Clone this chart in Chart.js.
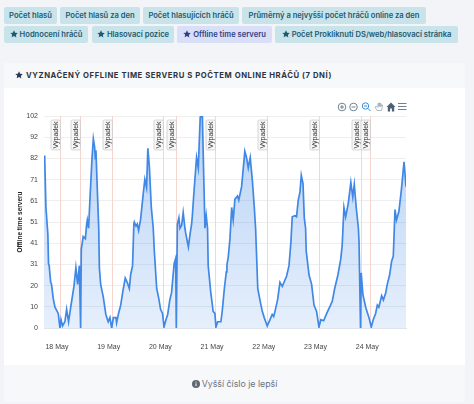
<!DOCTYPE html>
<html>
<head>
<meta charset="utf-8">
<script src="https://cdn.jsdelivr.net/npm/chart.js@4"></script>
<style>
  html, body { margin: 0; padding: 0; }
  body { width: 474px; height: 404px; background: #f3f4f7; font-family: Inter, sans-serif; overflow: hidden; position: relative; }
  .chip { position: absolute; height: 17px; line-height: 17px; background: #c8e3ea; color: #1d5a70; font-size: 7.6px; font-weight: 600; border-radius: 2px; text-align: center; white-space: nowrap; }
  .chip.active { background: #d9dff8; color: #2f3f86; }
  .star { display: inline-block; width: 8px; height: 8px; margin-right: 2px; vertical-align: -1px; fill: currentColor; }
  #card { position: absolute; left: 4px; top: 63px; width: 461px; height: 339px; background: #fff; border-radius: 3px; overflow: hidden; }
  #head { position: absolute; left: 0; top: 0; width: 100%; height: 25px; line-height: 25px; background: #f7f8fa; color: #2b3440; font-size: 7.7px; font-weight: 700; letter-spacing: 0.57px; padding-left: 11px; box-sizing: border-box; white-space: nowrap; }
  #head .star { color: #2c3a55; margin-right: 3px; vertical-align: -1px; }
  #foot { position: absolute; left: 0; top: 302px; width: 100%; height: 37px; line-height: 38px; background: #f7f8fa; color: #6b7280; font-size: 8.8px; text-align: center; }
  #foot svg { vertical-align: -1px; margin-right: 2px; }
  #wrap { position: absolute; left: 0; top: 25px; width: 461px; height: 277px; }
  #tools { position: absolute; left: 336px; top: 101px; }
</style>
</head>
<body>
<div id="chips"></div>
<div id="card">
  <div id="head"><svg class="star" viewBox="0 0 24 24"><path d="M12 1l3.4 7.3 7.9 1-5.8 5.5 1.5 7.9L12 18l-7 3.7 1.5-7.9L.7 9.3l7.9-1z"/></svg>VYZNAČENÝ OFFLINE TIME SERVERU S POČTEM ONLINE HRÁČŮ (7 DNÍ)</div>
  <div id="wrap"><canvas id="offlineChart"></canvas></div>
  <div id="foot"><svg width="8" height="8" viewBox="0 0 8 8"><circle cx="4" cy="4" r="4" fill="#5f6670"/><path d="M4 3.4v2.8M4 1.6v1" stroke="#fff" stroke-width="1"/></svg>Vyšší číslo je lepší</div>
</div>
<svg id="tools" width="72" height="12" viewBox="0 0 72 12" fill="none" stroke="#6e8192" stroke-width="1">
  <circle cx="6" cy="6" r="3.8"/><path d="M4 6h4M6 4v4"/>
  <circle cx="17.5" cy="6" r="3.8"/><path d="M15.5 6h4"/>
  <circle cx="29.5" cy="5" r="3.2" stroke="#2f8fe0"/><path d="M32 7.5l2.6 2.6M28 5h3" stroke="#2f8fe0"/>
  <path d="M39 6l2 3.5h4.5l1-5.5-1-.3-.7 2V2.5h-.9V5.5 2h-1v3.5-3h-1v4l-1.2-1.2z" stroke="#9aa8b4" stroke-width=".8"/>
  <path d="M50.5 6l4.5-4.5 4.5 4.5h-1.3v4.5h-2.3V7.5h-1.8v3h-2.3V6z" fill="#4d6173" stroke="none"/>
  <path d="M62 2.5h8.5M62 5.5h8.5M62 8.5h8.5" stroke="#6e8192" stroke-width="1.1"/>
</svg>
<script>
const starIcon = '<svg class="star" viewBox="0 0 24 24"><path d="M12 1l3.4 7.3 7.9 1-5.8 5.5 1.5 7.9L12 18l-7 3.7 1.5-7.9L.7 9.3l7.9-1z"/></svg>';

// chips on top of the card
const chipRows = [
  ["Počet hlasů", 4, 53, 7, false], ["Počet hlasů za den", 60, 80, 7, false], ["Počet hlasujících hráčů", 143, 96, 7, false],
  ["Průměrný a nejvyšší počet hráčů online za den", 242, 184, 7, false],
  ["Hodnocení hráčů", 4, 84, 26, true], ["Hlasovací pozice", 92, 82, 26, true], ["Offline time serveru", 177, 95, 26, true],
  ["Počet Prokliknutí DS/web/hlasovací stránka", 275, 183, 26, true]
];
chipRows.forEach(c => {
  const el = document.createElement("div");
  el.className = "chip" + (c[0].includes("Offline") ? " active" : "");
  el.innerHTML = (c[4] ? starIcon : "") + c[0];
  el.style.left = c[1] + "px";
  el.style.width = c[2] + "px";
  el.style.top = c[3] + "px";
  document.getElementById("chips").appendChild(el);
});

// hours counted from 18 May 00:00
const hours = [-7.4,-7.1,-6.5,-5.6,-5.3,-5.0,-4.3,-3.9,-3.1,-2.3,-0.8,0,0.5,1.2,2.3,3.1,4,5,5.9,6.5,7.4,8.2,9,9.6,9.9,10.8,11.8,12.4,12.7,13.3,13.9,14.9,15.5,16.1,16.4,16.7,17.3,18,18.3,18.9,20.1,21.3,22.4,23.2,24,24.8,26,26.3,27.2,28.2,29.1,30.3,31.2,32.2,32.8,33.7,34.3,34.5,35.3,35.9,36.5,37.4,38.7,39.4,40.2,40.8,41.5,42.4,43.3,43.8,44.9,45.9,46.7,47.6,48.3,49.2,50,51,51.8,53,53.7,54,54.5,55.2,55.7,56.5,57.2,58,58.3,59.6,60.5,61.1,61.4,62.3,63.4,64.2,65.1,66.1,66.7,67.3,67.9,68.5,68.8,70,71.1,71.9,72.4,73.2,74.7,75.3,76.3,77.2,77.5,78.1,78.9,79.7,80.4,81.2,82.4,83,84.3,85.8,86.6,87.4,88.3,89.3,90.2,90.8,91.8,92.8,93.9,94.8,96.2,97.5,98.5,99.2,99.8,101,102.1,103.2,105.2,106.3,107.2,107.8,109,109.8,110.6,111.4,112,112.8,113.4,114,114.3,115.6,116.8,117.9,119.1,120.2,121.1,122.4,123.8,125.6,126.4,127.5,129,130.3,131,131.8,132.6,133.8,134.4,135,135.9,136.6,137.5,138.5,138.8,139.5,139.8,140.6,141.9,143.4,144.5,145.4,146.5,147.3,148,149.3,150.1,151.2,151.9,153,153.9,154.7,155.5,156.2,157.3,158.4,159.7,160.6];
const offlineTime = [80,83,58,45,31,30,22,21,14,10,7,0,4,1,3,9,3,10,16,20,29,21,30,0,38,44,43,50,52,48,61.5,82,91,87,81.5,85.5,68,48,29,21,15,6.5,3,5,0,5,5,2.5,7,11,17,24,22,19,25.5,30,50,51,49,50,47,52,65,71.5,67.5,86.5,77.5,58,48,37,19,14,9,7,0.5,4,6.5,13.5,17,31,33.5,0,50,53,48,49.5,55.5,48,46,39,46,50,53.5,67,82,77,101.5,102,74.5,48,54,48,30,17,8,7,0.5,3,3,8,19,27,30.5,34,43,58,52,62,63.5,61.5,68,85,82,77,82,71,58,48,19,13.5,8,5,1,4,6.5,5.5,8,13.5,22,20,25,30,41.5,53.5,54,53.5,61.5,65.5,73.5,69.5,53,48,37,25.5,21,11,8,0.5,4,3.5,7,11,13,19,25.5,33,40,58,53.5,60,65,70,63,69,58,48,41.5,0,26.5,16,10,5,0.5,4,7,11,10,15.5,13.5,17,21,25.5,32,34.5,57,52,56,66,80,68];

const dayHours = [0, 24, 48, 72, 96, 120, 144];
const dayLabels = ["18 May", "19 May", "20 May", "21 May", "22 May", "23 May", "24 May"];
const yTickValues = [0, 10.2, 20.4, 30.6, 40.8, 51, 61.2, 71.4, 81.6, 91.8, 102];
const yTickLabels = ["0", "10", "20", "31", "41", "51", "61", "71", "82", "92", "102"];
const outageHours = [0, 9.5, 24, 48, 54, 72, 96, 120, 139.5, 144];
const outageLabel = "Výpadek";

// vertical outage markers, placed through the x scale
const outagePlugin = {
  id: "outages",
  beforeDatasetsDraw(chart) {
    const { ctx, chartArea, scales } = chart;
    ctx.save();
    ctx.strokeStyle = "#f6d5cf";
    ctx.lineWidth = 1;
    outageHours.forEach(h => {
      const x = Math.round(scales.x.getPixelForValue(h)) + 0.5;
      ctx.beginPath();
      ctx.moveTo(x, chartArea.top);
      ctx.lineTo(x, chartArea.bottom);
      ctx.stroke();
    });
    ctx.restore();
  },
  afterDatasetsDraw(chart) {
    const { ctx, chartArea, scales } = chart;
    ctx.save();
    outageHours.forEach(h => {
      const x = Math.round(scales.x.getPixelForValue(h)) + 0.5;
      ctx.fillStyle = "#f6f6f6";
      ctx.strokeStyle = "#c8c8c8";
      ctx.lineWidth = 0.7;
      ctx.beginPath();
      ctx.roundRect(x - 9.5, chartArea.top + 4, 9.5, 30, 1.5);
      ctx.fill();
      ctx.stroke();

      ctx.save();
      ctx.translate(x - 4.7, chartArea.top + 19);
      ctx.rotate(-Math.PI / 2);
      ctx.fillStyle = "#333";
      ctx.font = "7px 'Liberation Sans'";
      ctx.textAlign = "center";
      ctx.textBaseline = "middle";
      ctx.fillText(outageLabel, 0, 0);
      ctx.restore();
    });
    ctx.restore();
  }
};

const ctx = document.getElementById("offlineChart").getContext("2d");
new Chart(ctx, {
  type: "line",
  data: {
    datasets: [{
      label: "Offline time serveru",
      data: hours.map((h, i) => ({ x: h, y: offlineTime[i] })),
      borderColor: "#4088e6",
      borderWidth: 1.7,
      pointRadius: 0,
      tension: 0,
      fill: "origin",
      backgroundColor(c) {
        const area = c.chart.chartArea;
        if (!area) return "rgba(64,136,230,0.2)";
        const g = c.chart.ctx.createLinearGradient(0, area.top, 0, area.bottom);
        g.addColorStop(0, "rgba(64,136,230,0.38)");
        g.addColorStop(1, "rgba(64,136,230,0.13)");
        return g;
      }
    }]
  },
  options: {
    responsive: true,
    maintainAspectRatio: false,
    animation: false,
    layout: { padding: { top: 28, right: 59, bottom: 0, left: 0 } },
    plugins: { legend: { display: false }, tooltip: { enabled: false } },
    scales: {
      x: {
        type: "linear",
        min: -7.4,
        max: 160.6,
        afterBuildTicks(axis) { axis.ticks = dayHours.map(v => ({ value: v })); },
        afterFit(axis) { axis.height = 37; },
        grid: { display: false },
        border: { color: "#dfe3ea" },
        ticks: {
          padding: 7,
          maxRotation: 0,
          labelOffset: -3,
          autoSkip: false,
          color: "#444",
          font: { family: "'Liberation Sans'", size: 7 },
          callback(v) { return dayLabels[dayHours.indexOf(v)]; }
        }
      },
      y: {
        min: 0,
        max: 102,
        afterBuildTicks(axis) { axis.ticks = yTickValues.map(v => ({ value: v })); },
        afterFit(axis) { axis.width = 40; },
        grid: { color: "#eeeeee", drawTicks: false },
        border: { display: false },
        title: {
          display: true,
          text: "Offline time serveru",
          color: "#222",
          padding: { top: 12, bottom: 0 },
          font: { family: "'Liberation Sans'", size: 6.5, weight: "bold" }
        },
        ticks: {
          padding: 6,
          autoSkip: false,
          color: "#444",
          font: { family: "'Liberation Sans'", size: 7 },
          callback(v) { return yTickLabels[yTickValues.indexOf(v)]; }
        }
      }
    }
  },
  plugins: [outagePlugin]
});
</script>
</body>
</html>
